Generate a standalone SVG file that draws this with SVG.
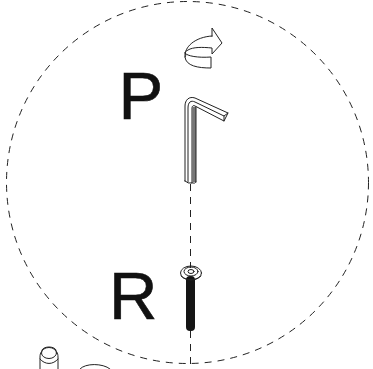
<svg xmlns="http://www.w3.org/2000/svg" width="373" height="369" viewBox="0 0 373 369">
<style>
.l{fill:none;stroke:#222;stroke-width:1;stroke-linejoin:round;stroke-linecap:round}
.d{fill:none;stroke:#222;stroke-width:1;stroke-dasharray:7 6}
.t{font-family:"Liberation Sans",Arial,sans-serif;font-size:67px;fill:#111;stroke:#111;stroke-width:0.6}
</style>
<rect width="373" height="369" fill="#fff"/>
<g id="connectors">
<circle class="d" cx="187.500" cy="182.500" r="181"/>
<path class="d" d="M190.500 184V268M190.500 331V369"/>
</g>
<g id="rotate-arrow">
<path class="l" d="M212 36V28L222 43L212 54V48C202 47 193 47 188 50C186 51 185 52 185 53C187 56 198 58 211 57V68C198 68 186 66 185 57C184 47 195 37 212 36Z"/>
<path class="l" d="M185 53C186 55 186 57 185 57"/>
</g>
<g id="label-p"><text class="t" x="118.600" y="119">P</text></g>
<g id="hex-key">
<path class="l" fill="#fff" d="M185 181V106C185 100 189 96 195 98L228 113L224 121L195 106C193.500 105 192 106 192 108V183Q188 184 185 181Z"/>
<rect x="192" y="107" width="4" height="75" fill="#777"/>
<path class="l" d="M196 107V182M192 183Q195 184 196 182"/>
<path class="l" d="M188 182V108C188 102 191 100 195 102L224 116L228 113M224 116L224 121"/>
</g>
<g id="label-r"><text class="t" x="109" y="319">R</text></g>
<g id="screw">
<rect x="186" y="276" width="9" height="55" rx="4" fill="#151515"/>
<ellipse class="l" cx="191" cy="273" rx="10.500" ry="7" fill="#fff"/>
<ellipse class="l" cx="191" cy="271.500" rx="7" ry="4.500" stroke-width="1.500"/>
<ellipse class="l" cx="191" cy="271.500" rx="3" ry="2"/>
<path class="l" d="M181 276C185 281 197 281 201 276"/>
</g>
<g id="partial-parts">
<path class="l" d="M40 369V357C40 352 42 352 42 350C44 346 54 346 56 350C56 352 58 352 58 357V369"/>
<ellipse class="l" cx="49" cy="353" rx="7.500" ry="5.500"/>
<path class="l" d="M40 359C45 365 53 365 58 359"/>
<path class="l" d="M80 369C85 363 103 363 110 369"/>
</g>
</svg>
